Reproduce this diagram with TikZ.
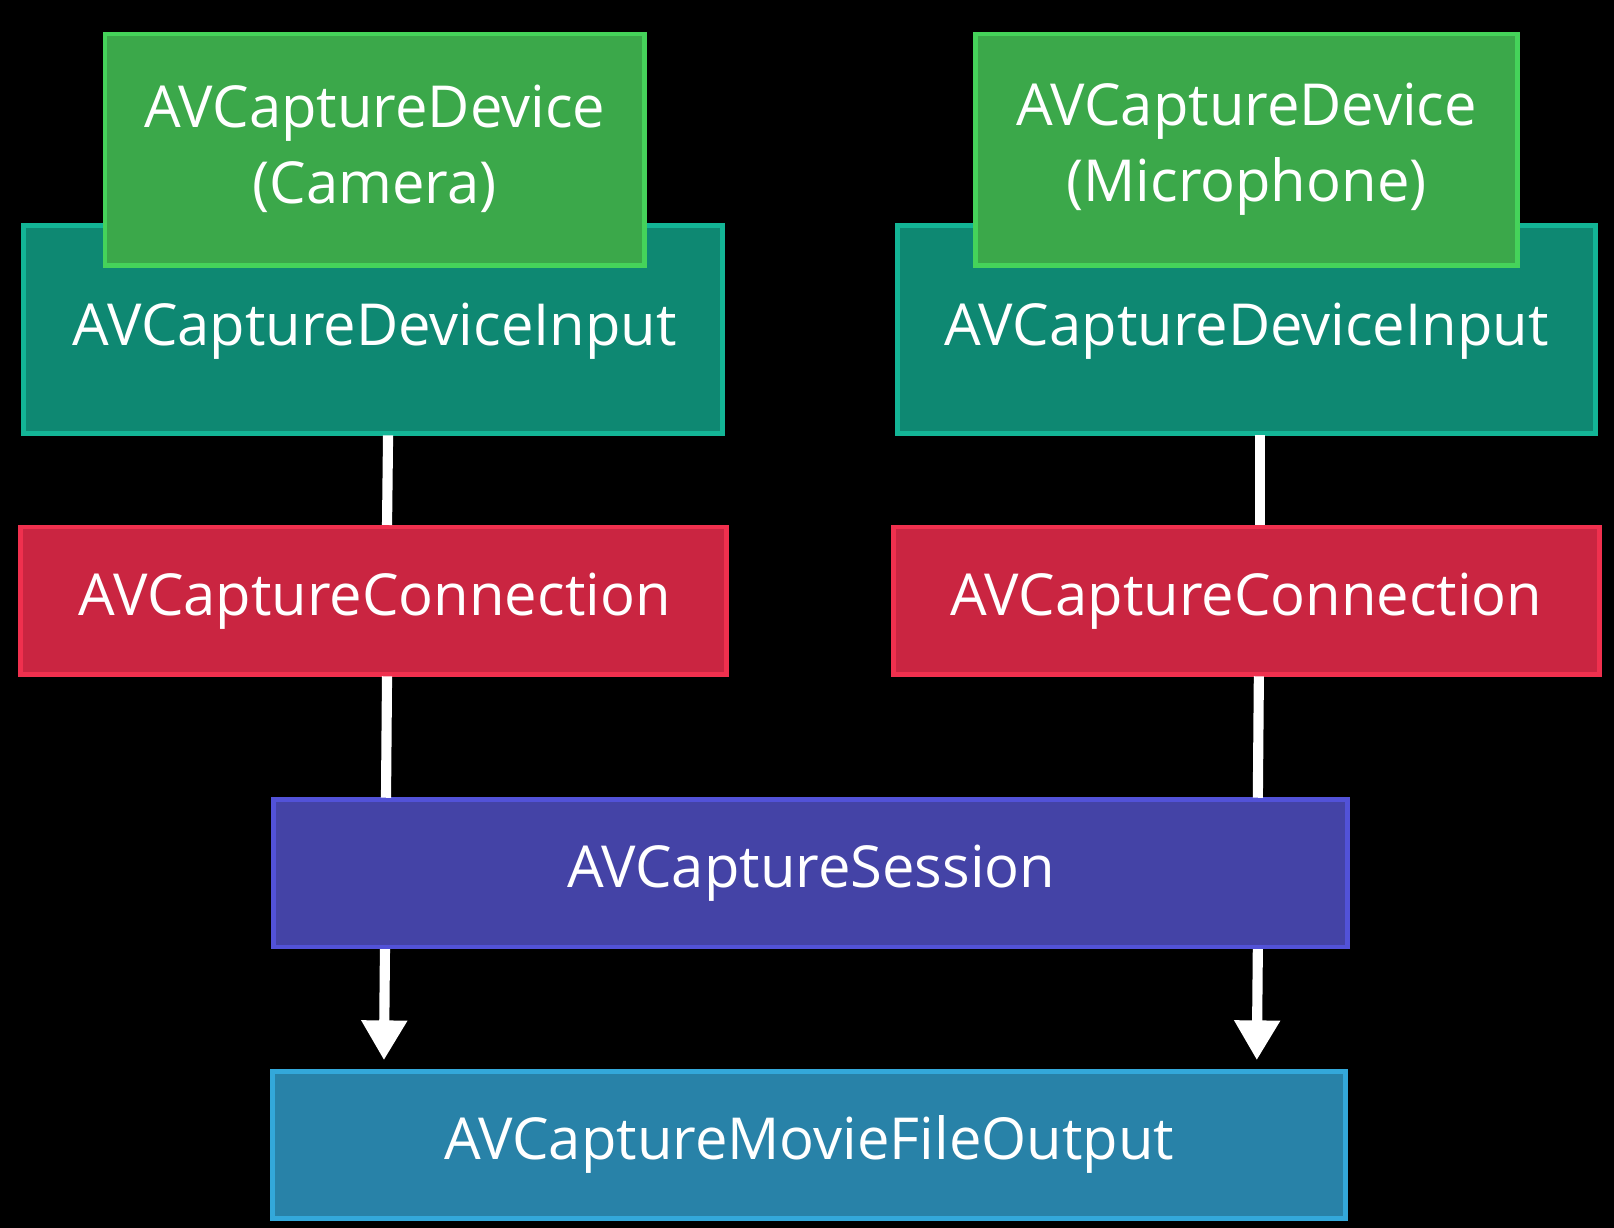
\documentclass[tikz,border=0pt]{standalone}
\usepackage{fontspec}
\setmainfont{Open Sans}
\usetikzlibrary{arrows.meta}
\definecolor{gfill}{HTML}{3BA84A}\definecolor{gline}{HTML}{45D35A}
\definecolor{tfill}{HTML}{0E8872}\definecolor{tline}{HTML}{13B596}
\definecolor{rfill}{HTML}{CA2541}\definecolor{rline}{HTML}{F0304E}
\definecolor{pfill}{HTML}{4443A6}\definecolor{pline}{HTML}{5252D8}
\definecolor{bfill}{HTML}{2882A8}\definecolor{bline}{HTML}{33A8DA}
\begin{document}
\begin{tikzpicture}[x=0.01cm,y=-0.01cm,
  box/.style={line width=1.3pt,text=white,font=\fontsize{16}{21}\selectfont,align=center},
  conn/.style={white,line width=2.8pt},
  arr/.style={conn,-{Triangle[width=12pt,length=11pt]}}]
\fill[black] (0,0) rectangle (1568,1193);
\useasboundingbox (0,0) rectangle (1568,1193);
\draw[box,fill=tfill,draw=tline] (23,219) rectangle (702,421);
\draw[box,fill=tfill,draw=tline] (872,219) rectangle (1550,421);
\draw[box,fill=gfill,draw=gline] (102,33) rectangle (626,258);
\draw[box,fill=gfill,draw=gline] (948,33) rectangle (1474,258);
\draw[box,fill=rfill,draw=rline] (20,512) rectangle (706,655);
\draw[box,fill=rfill,draw=rline] (868,512) rectangle (1554,655);
\draw[box,fill=pfill,draw=pline] (266,777) rectangle (1309,920);
\draw[box,fill=bfill,draw=bline] (265,1041) rectangle (1307,1184);
\node[box] (cam) at (364,145) {AVCaptureDevice\\(Camera)};
\node[box] (mic) at (1211,145) {AVCaptureDevice\\(Microphone)};
\node[box] (inL) at (364,322) {AVCaptureDeviceInput};
\node[box] (inR) at (1211,322) {AVCaptureDeviceInput};
\node[box] (cL) at (364,584) {AVCaptureConnection};
\node[box] (cR) at (1211,584) {AVCaptureConnection};
\node[box] (ses) at (788,848) {AVCaptureSession};
\node[box] (out) at (786,1112) {AVCaptureMovieFileOutput};
\coordinate (a1) at (377,423); \coordinate (a2) at (376,510);
\coordinate (a3) at (376,657); \coordinate (a4) at (375,775);
\coordinate (a5) at (374,922); \coordinate (a6) at (373,1030);
\coordinate (b1) at (1224,423); \coordinate (b2) at (1224,510);
\coordinate (b3) at (1223,657); \coordinate (b4) at (1222,775);
\coordinate (b5) at (1222,922); \coordinate (b6) at (1221,1030);
\draw[conn] (a1)--(a2); \draw[conn] (a3)--(a4); \draw[arr] (a5)--(a6);
\draw[conn] (b1)--(b2); \draw[conn] (b3)--(b4); \draw[arr] (b5)--(b6);
\end{tikzpicture}
\end{document}
